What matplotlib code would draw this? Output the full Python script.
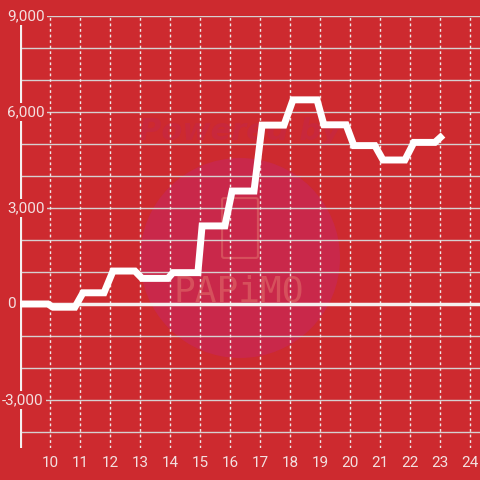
import numpy as np
import matplotlib.pyplot as plt
from matplotlib.patches import Circle, FancyBboxPatch
from matplotlib.transforms import blended_transform_factory

# line vertices (hour of day, value)
hours = [9.0, 9.93, 10.1, 10.83, 11.1, 11.8, 12.1, 12.83, 13.07, 13.93, 14.1,
         14.93, 15.07, 15.83, 16.07, 16.8, 17.07, 17.8, 18.1, 18.9, 19.13,
         19.87, 20.13, 20.83, 21.1, 21.83, 22.13, 22.83, 23.1]
values = [0, 0, -100, -100, 350, 350, 1030, 1030, 800, 800, 980,
          980, 2440, 2440, 3530, 3530, 5590, 5590, 6380, 6380, 5600,
          5600, 4950, 4950, 4500, 4500, 5050, 5050, 5280]

x_ticks = list(range(10, 25))
y_grid = list(range(-4000, 9001, 1000))
y_labels = [9000, 6000, 3000, 0, -3000]

bg = '#cd2a2f'
txt_col = '#f3e0e0'

fig = plt.figure(figsize=(4.8, 4.8), dpi=100, facecolor=bg)
ax = fig.add_axes([20 / 480, 32 / 480, 460 / 480, 432 / 480])
ax.set_facecolor(bg)
ax.set_xlim(9, 9 + 460 / 30)
ax.set_ylim(-4500, 9000)
for s in ax.spines.values():
    s.set_visible(False)
ax.set_yticks([])
ax.set_xticks(x_ticks)
ax.set_xticklabels([str(t) for t in x_ticks], color=txt_col,
                   fontsize=11, family='Roboto')
ax.tick_params(axis='x', length=0, pad=6)

# watermark (inside the axes so it sits under the grid)
ftr = fig.transFigure
ax.add_patch(Circle((0.5, (480 - 258) / 480), 100 / 480, transform=ftr,
                    facecolor='#c9284a', edgecolor='none', zorder=1,
                    clip_on=False))
ax.add_patch(FancyBboxPatch((224 / 480, (480 - 256) / 480), 32 / 480, 56 / 480,
                            boxstyle='round,pad=0.004', transform=ftr,
                            facecolor='none', edgecolor='#d6505c', lw=1.5,
                            zorder=1.5, clip_on=False))
ax.text(240 / 480, 1 - 132 / 480, 'Powered by', transform=ftr, ha='center',
        va='center', fontsize=22, fontweight='bold', style='italic',
        color='#c8283c', zorder=1.5, family='DejaVu Sans')
ax.text(239 / 480, 1 - 292 / 480, 'PAPiMO', transform=ftr, ha='center',
        va='center', fontsize=26, color='#d6505c', zorder=1.5,
        family='DejaVu Sans Mono')

# grid
for g in y_grid:
    if g == 0:
        continue
    ax.axhline(g, color='#d6d0d0', lw=1, zorder=2)
for t in x_ticks:
    ax.axvline(t, color='#f0e8e8', lw=1, ls=(0, (2, 2)), zorder=2)
ax.axhline(0, color='#f5f0f0', lw=2.5, zorder=3)
ax.axvline(9, color='#f5f0f0', lw=3, zorder=3)

# labels for y axis
tr = blended_transform_factory(ax.transAxes, ax.transData)
for v in y_labels:
    x0 = -13 / 460 if v >= 0 else -18 / 460
    ax.text(x0, v, f'{v:,}', transform=tr, ha='left', va='center',
            fontsize=11, family='Roboto', color=txt_col, zorder=5,
            clip_on=False,
            bbox=dict(facecolor=bg, edgecolor='none', pad=1.5))

ax.plot(hours, values, color='white', lw=5, zorder=4,
        solid_joinstyle='miter', solid_capstyle='butt')

fig.savefig('out.png', dpi=100, facecolor=bg)
